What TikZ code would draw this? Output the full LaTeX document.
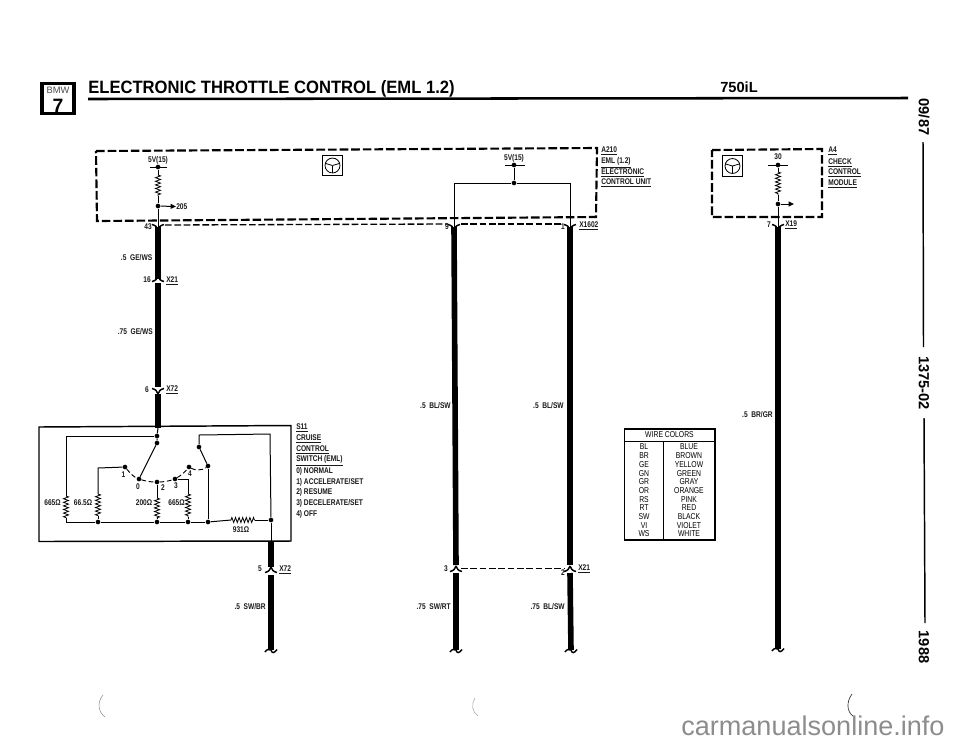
\documentclass[tikz,border=0pt]{standalone}
\usepackage{fontspec}
\usetikzlibrary{decorations.pathmorphing,arrows.meta,calc}
\setmainfont{Liberation Sans}[FakeStretch=0.8]
\newfontfamily\plainf{Liberation Sans}
\newfontfamily\titlef{Liberation Sans}[FakeStretch=0.93]
\tikzset{
  lbl/.style={font=\bfseries\fontsize{6.2}{7}\selectfont,inner sep=0pt,text=black!90},
  tlbl/.style={lbl,anchor=west},
  rlbl/.style={lbl,anchor=east},
  wire/.style={line width=0.75pt,black},
  fat/.style={line width=4.2pt,black},
  horn/.style={line width=1.1pt,black},
  dashbox/.style={line width=1.6pt,dash pattern=on 6.5pt off 2.2pt,black},
  dashlink/.style={line width=1pt,dash pattern=on 5pt off 2pt,black},
  arcdash/.style={line width=0.7pt,dash pattern=on 3.5pt off 2pt},
  dot/.style={circle,fill=black,inner sep=0pt,minimum size=3.5pt},
  res/.style={line width=0.6pt,black,decorate,decoration={zigzag,segment length=2.7pt,amplitude=1.9pt}},
  sym/.style={draw=black,line width=0.9pt,inner sep=0pt,minimum width=15.5pt,minimum height=15.5pt},
  arr/.style={wire,-{Triangle[length=4pt,width=3.6pt]}},
  side/.style={font=\plainf\bfseries\fontsize{11}{12}\selectfont,rotate=-90,inner sep=0pt},
  tabl/.style={font=\fontsize{6.4}{7}\selectfont,inner sep=0pt,text=black},
}
\newcommand{\wheel}[2]{%
  \node[sym] (#1) at (#2) {};
  \draw[line width=0.6pt] (#1.center) circle (5.6pt);
  \draw[line width=0.6pt] (#1.center) -- ++(0,-5.6pt);
  \draw[line width=0.6pt] (#1.center) -- ++(-5.4pt,1.6pt);
  \draw[line width=0.6pt] (#1.center) -- ++(5.4pt,1.6pt);
}
\newcommand{\cupmark}[1]{%
  \draw[horn] ($(#1)+(-6,-2.5)$) .. controls ($(#1)+(-2,-1.5)$) and ($(#1)+(-1,0)$) .. ($(#1)+(0,3)$);
  \draw[horn] ($(#1)+(6,-2.5)$) .. controls ($(#1)+(2,-1.5)$) and ($(#1)+(1,0)$) .. ($(#1)+(0,3)$);
}
\newcommand{\archmark}[1]{%
  \draw[horn] ($(#1)+(-6,2.5)$) .. controls ($(#1)+(-2,1.5)$) and ($(#1)+(-1,0)$) .. ($(#1)+(0,-3)$);
  \draw[horn] ($(#1)+(6,2.5)$) .. controls ($(#1)+(2,1.5)$) and ($(#1)+(1,0)$) .. ($(#1)+(0,-3)$);
}
\newcommand{\squig}[1]{%
  \draw[horn] ($(#1)+(-6,2)$) .. controls ($(#1)+(-4,-1)$) and ($(#1)+(-2,-1)$) .. ($(#1)+(0,0)$)
     .. controls ($(#1)+(1,3.5)$) and ($(#1)+(3,3.5)$) .. ($(#1)+(6,-0.5)$);
}
\newcommand{\tabrow}[4]{%
  \node[tabl] (c#1) at (644,#4) {#2};
  \node[tabl] (n#1) at (689,#4) {#3};
}
\begin{document}
\begin{tikzpicture}[x=0.75pt,y=-0.75pt]
\useasboundingbox (0,0) rectangle (960,744);

% ---------- header
\node[draw=black,line width=2.4pt,minimum width=24pt,minimum height=22.5pt,inner sep=0pt] (logo) at (58,98.5) {};
\node[font=\plainf\fontsize{7}{8}\selectfont,inner sep=0pt,text=black!70] (logotxt) at (58,90.5) {BMW};
\node[font=\plainf\bfseries\fontsize{14.5}{15}\selectfont,inner sep=0pt] (logosev) at (58,105.5) {7};
\node[font=\titlef\bfseries\fontsize{13.4}{15}\selectfont,anchor=base west,inner sep=0pt] (title) at (88,93.5) {ELECTRONIC THROTTLE CONTROL (EML 1.2)};
\node[font=\plainf\bfseries\fontsize{11}{12}\selectfont,anchor=base west,inner sep=0pt] (model) at (720,92) {750iL};
\coordinate (ruleA) at (88,99);
\coordinate (ruleB) at (908,98);
\draw[line width=1.9pt] (ruleA) -- (ruleB);

% ---------- side strip
\node[side] (sdate) at (924,117) {09/87};
\node[side] (snum) at (924,383) {1375-02};
\node[side] (syear) at (924,647) {1988};
\coordinate (sa) at (923,142); \coordinate (sb) at (923.5,347);
\coordinate (sc) at (924,418); \coordinate (sd) at (925,623);
\draw[line width=1.1pt] (sa) -- (sb);
\draw[line width=1.1pt] (sc) -- (sd);

% ---------- A210 dashed outline
\draw[dashbox] (96,151) -- (597,148) -- (596,217) -- (97,221) -- cycle;
\wheel{symA}{332.5,165.5}
\node[tlbl] (a1) at (601,151) {\underline{A210}};
\node[tlbl] (a2) at (601,162.5) {\underline{EML (1.2)}};
\node[tlbl] (a3) at (601,172.5) {\underline{ELECTRONIC}};
\node[tlbl] (a4) at (601,183) {\underline{CONTROL UNIT}};

% left supply
\node[lbl] (v5a) at (158,160) {5V(15)};
\node[dot] (d1) at (158,167) {};
\coordinate (bar1a) at (150,167); \coordinate (bar1b) at (167,167);
\draw[wire] (bar1a) -- (bar1b);
\coordinate (r1a) at (158,175); \coordinate (r1b) at (158,196);
\node[dot] (d2) at (158,206) {};
\draw[wire] (d1) -- (r1a); \draw[res] (r1a) -- (r1b); \draw[wire] (r1b) -- (d2);
\node[lbl,anchor=west] (t205) at (176,206.5) {205};
\draw[arr] (d2) -- (t205.west);
\coordinate (p43) at (158,227);
\draw[wire] (d2) -- (p43);

% right supply in A210
\node[lbl] (v5b) at (514,158) {5V(15)};
\node[dot] (d3) at (514,165) {};
\coordinate (bar2a) at (505,165); \coordinate (bar2b) at (525,165);
\draw[wire] (bar2a) -- (bar2b);
\node[dot] (d4) at (514,183) {};
\draw[wire] (d3) -- (d4);
\coordinate (p9) at (454,227);
\coordinate (p1) at (570,227);
\draw[wire] (p9) -- (454,183) -- (d4) -- (570,183) -- (p1);

% inner dashed link
\coordinate (lnkA) at (165,225);
\coordinate (lnkB) at (448,224);
\coordinate (lnkC) at (461,224);
\coordinate (lnkD) at (563,224);
\draw[dashlink] (lnkA) -- (lnkB);
\draw[dashlink] (lnkC) -- (lnkD);

% left fat wire
\coordinate (x21a) at (158,279);
\coordinate (x72a) at (158,391);
\coordinate (swin) at (158,428);
\draw[fat] (p43) -- (x21a);
\draw[fat] ($(x21a)+(0,4)$) -- ($(x72a)+(0,-4)$);
\draw[fat] ($(x72a)+(0,3)$) -- (swin);
\cupmark{p43}
\archmark{x21a}
\cupmark{x72a}
\node[rlbl] (n43) at (152,227) {43};
\node[rlbl] (l1) at (152.5,258) {.5\ \ GE/WS};
\node[rlbl] (n16) at (151,280) {16};
\node[tlbl] (xa) at (166,281) {\underline{X21}};
\node[rlbl] (l2) at (153,332) {.75\ \ GE/WS};
\node[rlbl] (n6) at (149,390) {6};
\node[tlbl] (xb) at (166,390) {\underline{X72}};

% ---------- S11 switch box
\draw[line width=1.1pt] (39,427) -- (291,425.5) -- (291,541) -- (39,541.5) -- cycle;
\node[dot] (top) at (157,436) {};
\node[dot] (piv) at (157,443) {};
\draw[wire] (swin) -- (top) -- (piv);
\coordinate (c665) at (66,436);
\coordinate (r2a) at (66,496); \coordinate (r2b) at (66,518);
\coordinate (busL) at (66,522);
\node[dot] (b1) at (98,522) {};
\node[dot] (b2) at (157,522) {};
\node[dot] (b3) at (188,522) {};
\node[dot] (b4) at (208,522) {};
\node[dot] (b5) at (271,520) {};
\draw[wire] (top) -- (c665) -- (r2a);
\draw[res] (r2a) -- (r2b);
\draw[wire] (r2b) -- (busL) -- (b1) -- (b2) -- (b3) -- (b4);
\coordinate (r3a) at (231,520); \coordinate (r3b) at (255,520);
\draw[wire] (b4) -- (r3a); \draw[res] (r3a) -- (r3b); \draw[wire] (r3b) -- (b5);
\node[dot] (k1) at (125,467) {};
\node[dot] (k0) at (139,479) {};
\node[dot] (k2) at (157,482) {};
\node[dot] (k3) at (175,479) {};
\node[dot] (k4) at (189,467) {};
\node[dot] (k5) at (208,466) {};
\node[dot] (k6) at (199,447) {};
\draw[wire] (piv) -- (k0);
\draw[wire] (k5) -- (k6);
\draw[wire] (k6) -- (199,435) -- (270,434) -- (b5);
\draw[wire] (k5) -- (b4);
\coordinate (r4a) at (98,494); \coordinate (r4b) at (98,516);
\draw[wire] (k1) -- (98,468) -- (r4a); \draw[res] (r4a) -- (r4b); \draw[wire] (r4b) -- (b1);
\coordinate (r5a) at (157,498); \coordinate (r5b) at (157,518);
\draw[wire] (k2) -- (r5a); \draw[res] (r5a) -- (r5b); \draw[wire] (r5b) -- (b2);
\coordinate (r6a) at (188,494); \coordinate (r6b) at (188,517);
\draw[wire] (k3) -- (188,479) -- (r6a); \draw[res] (r6a) -- (r6b); \draw[wire] (r6b) -- (b3);
\draw[arcdash] (k1) .. controls (130,473) and (134,477) .. (k0);
\draw[arcdash] (k0) .. controls (145,481) and (151,482) .. (k2);
\draw[arcdash] (k2) .. controls (163,482) and (169,481) .. (k3);
\draw[arcdash] (k3) .. controls (180,476) and (185,472) .. (k4);
\draw[arcdash] (k4) .. controls (194,470) and (202,471) .. (k5);
\node[lbl] (t1) at (123.5,475) {1};
\node[lbl] (t0) at (138,487) {0};
\node[lbl] (t2) at (163,488) {2};
\node[lbl] (t3) at (176,486) {3};
\node[lbl] (t4) at (190,473.5) {4};
\node[lbl] (o1) at (52.5,503) {665Ω};
\node[lbl] (o2) at (83,503) {66.5Ω};
\node[lbl] (o3) at (144,503) {200Ω};
\node[lbl] (o4) at (176.5,503) {665Ω};
\node[lbl] (o5) at (241,530) {931Ω};
\node[tlbl] (s1) at (296,428) {\underline{S11}};
\node[tlbl] (s2) at (296,439) {\underline{CRUISE}};
\node[tlbl] (s3) at (296,450) {\underline{CONTROL}};
\node[tlbl] (s4) at (296,461) {\underline{SWITCH (EML)}};
\node[tlbl] (s5) at (296,471) {0) NORMAL};
\node[tlbl] (s6) at (296,482) {1) ACCELERATE/SET};
\node[tlbl] (s7) at (296,492) {2) RESUME};
\node[tlbl] (s8) at (296,503) {3) DECELERATE/SET};
\node[tlbl] (s9) at (296,514) {4) OFF};

% switch output wire
\coordinate (swout) at (271,541);
\coordinate (x72b) at (271,570);
\coordinate (end1) at (271,650);
\draw[wire] (b5) -- (swout);
\draw[fat] (swout) -- ($(x72b)+(0,-3)$);
\draw[fat] ($(x72b)+(0,5)$) -- (end1);
\archmark{x72b}
\squig{end1}
\node[rlbl] (n5) at (262,569) {5};
\node[tlbl] (xc) at (279,570) {\underline{X72}};
\node[rlbl] (l3) at (266,607) {.5\ \ SW/BR};

% ---------- middle wires
\coordinate (x21b) at (456,569);
\coordinate (x21c) at (570,569);
\coordinate (end2) at (456,650);
\coordinate (end3) at (571,650);
\draw[fat] (p9) -- ($(x21b)+(0,-4)$);
\draw[fat] (p1) -- ($(x21c)+(0,-4)$);
\draw[fat] ($(x21b)+(0,4)$) -- (end2);
\draw[fat] ($(x21c)+(0,4)$) -- (end3);
\cupmark{p9}
\cupmark{p1}
\archmark{x21b}
\archmark{x21c}
\squig{end2}
\squig{end3}
\coordinate (lnkE) at (461,568.5);
\coordinate (lnkF) at (564,568.5);
\draw[dashlink] (lnkE) -- (lnkF);
\node[rlbl] (n9) at (449,227) {9};
\node[rlbl] (n1) at (565,227) {1};
\node[tlbl] (xd) at (579,226) {\underline{X1602}};
\node[rlbl] (l4) at (451,406) {.5\ \ BL/SW};
\node[rlbl] (l5) at (564,406) {.5\ \ BL/SW};
\node[rlbl] (n3) at (448,569) {3};
\node[rlbl] (n2) at (565,573) {2};
\node[tlbl] (xe) at (578,569) {\underline{X21}};
\node[rlbl] (l6) at (451,607) {.75\ \ SW/RT};
\node[rlbl] (l7) at (565,607) {.75\ \ BL/SW};

% ---------- A4 module
\draw[dashbox] (712,150) -- (822,149) -- (822,217) -- (712,217) -- cycle;
\wheel{symB}{732.5,166}
\node[lbl] (t30) at (778,157) {30};
\node[dot] (d5) at (778,165) {};
\coordinate (bar3a) at (768,165); \coordinate (bar3b) at (788,165);
\draw[wire] (bar3a) -- (bar3b);
\coordinate (r7a) at (778,172); \coordinate (r7b) at (778,195);
\node[dot] (d6) at (778,204) {};
\draw[wire] (d5) -- (r7a); \draw[res] (r7a) -- (r7b); \draw[wire] (r7b) -- (d6);
\coordinate (arrB) at (794,204);
\draw[arr] (d6) -- (arrB);
\coordinate (p7) at (778,227);
\coordinate (end4) at (778,649);
\draw[wire] (d6) -- (p7);
\draw[fat] (p7) -- (end4);
\cupmark{p7}
\squig{end4}
\node[tlbl] (m1) at (828,151) {\underline{A4}};
\node[tlbl] (m2) at (828,162.5) {\underline{CHECK}};
\node[tlbl] (m3) at (828,173) {\underline{CONTROL}};
\node[tlbl] (m4) at (828,183.5) {\underline{MODULE}};
\node[rlbl] (n7) at (771,225) {7};
\node[tlbl] (xf) at (785,225) {\underline{X19}};
\node[rlbl] (l8) at (773,415) {.5\ \ BR/GR};

% ---------- wire colour table
\draw[line width=0.8pt] (624.5,429) rectangle (715,540);
\coordinate (h1) at (624.5,441); \coordinate (h2) at (715,441);
\coordinate (v1) at (663,441); \coordinate (v2) at (663,540);
\draw[line width=0.7pt] (h1) -- (h2);
\draw[line width=0.7pt] (v1) -- (v2);
\node[tabl] (thead) at (669.5,435) {WIRE COLORS};
\tabrow{1}{BL}{BLUE}{447}
\tabrow{2}{BR}{BROWN}{455.7}
\tabrow{3}{GE}{YELLOW}{464.4}
\tabrow{4}{GN}{GREEN}{473.1}
\tabrow{5}{GR}{GRAY}{481.8}
\tabrow{6}{OR}{ORANGE}{490.5}
\tabrow{7}{RS}{PINK}{499.2}
\tabrow{8}{RT}{RED}{507.9}
\tabrow{9}{SW}{BLACK}{516.6}
\tabrow{10}{VI}{VIOLET}{525.3}
\tabrow{11}{WS}{WHITE}{534}

% ---------- scan marks and footer
\draw[line width=0.4pt,black!45] (103,695) .. controls (97,702) and (98,712) .. (105,717);
\draw[line width=0.4pt,black!35] (475,698) .. controls (471,704) and (472,712) .. (478,716);
\draw[line width=0.5pt,black!80] (852,694) .. controls (846,702) and (847,712) .. (853,716);
\node[font=\plainf\fontsize{20.3}{22}\selectfont,text=black!45,anchor=base west,inner sep=0pt] (wm) at (681,735) {carmanualsonline.info};
\end{tikzpicture}
\end{document}
